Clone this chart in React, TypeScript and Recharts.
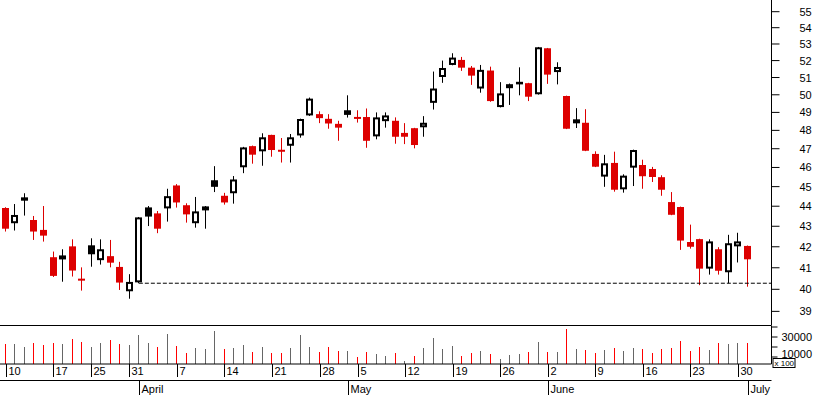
import React from "react";
import { ComposedChart, Bar, Cell, XAxis, YAxis, ReferenceLine } from "recharts";

const FONT = "'Liberation Sans', Arial, sans-serif";
const RED = "#dd0000";
const VOL_RED = "#ff0000";
const VOL_GRAY = "#666666";
const INK = "#000000";

// trading sessions, 2008
const YEAR = 2008;
const MARCH_DAYS = [10, 11, 12, 13, 14, 17, 18, 19, 20, 25, 26, 27, 28, 31];
const APRIL_DAYS = [1, 2, 3, 4, 7, 8, 9, 10, 11, 14, 15, 16, 17, 18, 21, 22, 23, 24, 25, 28, 29, 30];
const MAY_DAYS = [2, 5, 6, 7, 8, 9, 12, 13, 14, 15, 16, 19, 20, 21, 22, 23, 26, 27, 28, 29, 30];
const JUNE_DAYS = [2, 3, 4, 5, 6, 9, 10, 11, 12, 13, 16, 17, 18, 19, 20, 23, 24, 25, 26, 27, 30];
const JULY_DAYS = [1];
const MONTH_NAMES = ["January", "February", "March", "April", "May", "June", "July"];

const OPEN = [
  43.91, 43.15, 44.45, 43.31, 42.82, 41.5, 41.4, 42.02, 40.47, 42.07,
  41.36, 41.55, 41.04, 39.91, 40.32, 43.94, 43.64, 43.89, 45.06, 44.05,
  43.15, 43.84, 45.33, 44.53, 44.66, 46.01, 47.14, 46.86, 47.75, 46.92,
  47.16, 47.72, 48.83, 48.68, 48.64, 48.36, 49.12, 48.72, 48.74, 47.67,
  48.51, 48.53, 47.86, 48.12, 48.17, 49.54, 51.03, 51.74, 52.04, 51.58,
  50.36, 51.41, 49.3, 50.43, 50.75, 50.67, 50.03, 52.74, 51.32, 49.93,
  48.42, 48.42, 46.72, 45.52, 46.24, 44.86, 45.99, 46.13, 45.92, 45.49,
  44.21, 43.96, 42.23, 42.37, 40.96, 41.88, 40.79, 42.02, 42.04,
];
const HIGH = [
  43.95, 44.11, 44.66, 43.51, 44.01, 41.77, 41.88, 42.36, 41.02, 42.41,
  42.36, 42.33, 41.28, 40.7, 43.46, 44.01, 43.76, 44.89, 45.13, 44.15,
  44.47, 44.01, 46.07, 44.68, 45.55, 47.1, 47.17, 47.84, 47.76, 47.58,
  47.8, 48.65, 49.84, 49.06, 48.9, 48.53, 49.97, 49.12, 49.22, 49.0,
  49.0, 48.72, 48.4, 48.14, 48.79, 51.35, 52.0, 52.44, 52.22, 51.68,
  51.74, 51.64, 50.73, 50.65, 51.6, 50.69, 52.82, 52.76, 51.9, 49.95,
  49.24, 49.18, 46.86, 46.67, 46.84, 45.64, 46.95, 46.41, 46.03, 45.59,
  44.72, 43.98, 43.08, 42.39, 42.36, 41.98, 42.58, 42.68, 42.06,
];
const LOW = [
  42.74, 42.79, 43.53, 42.33, 42.25, 40.57, 40.35, 40.59, 39.94, 41.05,
  41.15, 41.02, 39.97, 39.57, 40.28, 43.01, 42.66, 43.23, 43.93, 43.18,
  42.93, 42.88, 44.72, 44.08, 44.13, 45.7, 46.2, 46.09, 46.57, 46.26,
  46.26, 47.6, 48.8, 48.4, 48.09, 47.43, 48.71, 48.43, 47.05, 47.51,
  48.15, 47.27, 47.25, 47.02, 47.65, 49.16, 50.69, 51.72, 51.39, 50.57,
  50.12, 49.6, 49.28, 49.42, 49.97, 49.64, 50.01, 50.63, 50.6, 48.07,
  48.13, 46.87, 46.02, 44.99, 44.74, 44.69, 45.03, 44.89, 45.24, 44.53,
  43.55, 41.85, 41.91, 40.19, 40.68, 40.68, 40.28, 41.25, 40.12,
];
const CLOSE = [
  42.88, 43.56, 44.28, 42.74, 42.54, 40.62, 41.58, 40.87, 40.42, 41.64,
  41.88, 41.24, 40.31, 40.34, 43.44, 43.48, 42.88, 44.51, 44.19, 43.59,
  43.74, 43.94, 44.99, 44.19, 45.37, 47.07, 46.68, 47.62, 46.93, 46.86,
  47.62, 48.63, 49.78, 48.9, 48.38, 48.15, 48.86, 48.66, 47.43, 48.72,
  48.83, 47.65, 47.65, 47.2, 48.42, 50.36, 51.56, 52.18, 51.58, 51.11,
  51.45, 49.64, 50.08, 50.56, 50.6, 49.89, 52.8, 51.17, 51.62, 48.09,
  48.58, 46.89, 46.04, 46.22, 44.84, 45.57, 46.93, 45.54, 45.5, 44.84,
  43.57, 42.3, 42.0, 40.96, 42.26, 40.86, 42.17, 42.26, 41.4,
];
// volume in hundreds of shares
const VOLUME = [
  22700, 22700, 19700, 23700, 21700, 23700, 22700, 27700, 24700, 19700,
  23700, 26700, 22700, 21700, 31700, 23700, 19700, 32700, 20700, 13700,
  18700, 17700, 35700, 17700, 18700, 21700, 14700, 19700, 13700, 13700,
  18700, 31700, 19700, 14700, 19700, 15700, 15700, 9700, 14700, 12700,
  10700, 13700, 5700, 10700, 18700, 28700, 17700, 20700, 10700, 13700,
  15700, 12700, 7700, 11700, 12700, 14700, 24700, 14700, 14700, 37700,
  17700, 16700, 13700, 16700, 18700, 15700, 18700, 17700, 13700, 17700,
  18700, 25700, 15700, 19700, 16700, 23700, 22700, 23700, 23700,
];
const PRIOR_CLOSE = 44.0;
const SUPPORT_LEVEL = 40.28;

const PRICE_TICKS = [39, 40, 41, 42, 43, 44, 45, 46, 47, 48, 49, 50, 51, 52, 53, 54, 55];
const VOLUME_TICKS = [10000, 20000, 30000, 40000];
const VOLUME_LABELS = [10000, 30000];

const X_DOMAIN: [number, number] = [-0.6, 80.52];
const PRICE_DOMAIN: [number, number] = [38.373, 55.743];
const VOLUME_DOMAIN: [number, number] = [3000, 41000];

const SESSIONS: Array<[number, number[]]> = [
  [2, MARCH_DAYS],
  [3, APRIL_DAYS],
  [4, MAY_DAYS],
  [5, JUNE_DAYS],
  [6, JULY_DAYS],
];
const DATES = SESSIONS.flatMap(([m, days]) => days.map((d) => new Date(YEAR, m, d)));

const data = DATES.map((date, i) => ({
  i,
  date,
  open: OPEN[i],
  high: HIGH[i],
  low: LOW[i],
  close: CLOSE[i],
  prevClose: i === 0 ? PRIOR_CLOSE : CLOSE[i - 1],
  range: [LOW[i], HIGH[i]],
  volume: VOLUME[i],
}));

const WEEK_TICKS = DATES.map((d, i) => i).filter(
  (i) =>
    i === 0 ||
    DATES[i].getDay() <= DATES[i - 1].getDay() ||
    DATES[i].getTime() - DATES[i - 1].getTime() >= 7 * 86400000
);
const MONTH_TICKS = DATES.map((d, i) => i).filter((i) => i > 0 && DATES[i].getMonth() !== DATES[i - 1].getMonth());

const supportStart = DATES.findIndex((d) => d.getMonth() === 3);

const Candle = (props: any) => {
  const { x, y, width, height, payload } = props;
  if (x == null || y == null) return null;
  const { open, high, low, close, prevClose } = payload;
  const top = Math.min(y, y + height);
  const span = Math.abs(height);
  const lnH = Math.log(high);
  const lnL = Math.log(low);
  const py = (v: number) => top + (span * (lnH - Math.log(v))) / (lnH - lnL || 1);
  const left = Math.round(x + width / 2 - 3.5);
  const cx = left + 3.5;
  const color = close <= prevClose ? RED : INK;
  const hollow = close > open;
  let yTop = py(Math.max(open, close));
  let yBot = py(Math.min(open, close));
  const minH = hollow ? 4 : 2;
  if (yBot - yTop < minH) {
    const m = (yTop + yBot) / 2;
    yTop = m - minH / 2;
    yBot = m + minH / 2;
  }
  return (
    <g>
      <line x1={cx} x2={cx} y1={py(high)} y2={py(low)} stroke={color} strokeWidth={1} />
      {hollow ? (
        <rect x={left + 1} y={yTop + 1} width={5} height={Math.max(0, yBot - yTop - 2)} fill="#fff" stroke={color} strokeWidth={2} />
      ) : (
        <rect x={left} y={yTop} width={7} height={yBot - yTop} fill={color} />
      )}
    </g>
  );
};

const VolumeStick = (props: any) => {
  const { x, y, width, height, fill } = props;
  if (x == null || y == null) return null;
  return <rect x={Math.round(x + width / 2 - 0.5)} y={Math.round(y)} width={1} height={Math.round(height)} fill={fill} />;
};

const PriceTick = (props: any) => {
  const { x, y, payload } = props;
  return (
    <g>
      <line x1={x} x2={x + 8} y1={y} y2={y} stroke={INK} />
      <text x={x + 28} y={y} dy={4} fontSize={11} fontFamily={FONT} fill={INK}>
        {payload.value}
      </text>
    </g>
  );
};

const VolumeTick = (props: any) => {
  const { x, y, payload } = props;
  const v = payload.value;
  const first = v === VOLUME_LABELS[0];
  return (
    <g>
      <line x1={x} x2={x + 6} y1={y} y2={y} stroke={INK} />
      {VOLUME_LABELS.includes(v) && (
        <text x={x + 10} y={y} dy={first ? 1 : 4} fontSize={11} fontFamily={FONT} fill={INK}>
          {v}
        </text>
      )}
      {first && (
        <g>
          <rect x={x + 1.5} y={y + 1.5} width={22} height={9} fill="#fff" stroke={INK} />
          <text x={x + 3} y={y + 9} fontSize={8} fontFamily={FONT} fill={INK}>
            x 100
          </text>
        </g>
      )}
    </g>
  );
};

const DayTick = (props: any) => {
  const { x, y, payload } = props;
  const d = DATES[payload.value];
  const px = Math.round(x) + 0.5;
  return (
    <g>
      <line x1={px} x2={px} y1={y} y2={y + 13} stroke={INK} />
      <text x={px + 2} y={y + 11} fontSize={11} fontFamily={FONT} fill={INK}>
        {d ? d.getDate() : ""}
      </text>
    </g>
  );
};

const MonthTick = (props: any) => {
  const { x, y, payload } = props;
  const d = DATES[payload.value];
  const px = Math.round(x) + 0.5;
  return (
    <g>
      <line x1={px} x2={px} y1={y} y2={y + 14.5} stroke={INK} />
      <text x={px + 2} y={y + 12} fontSize={11} fontFamily={FONT} fill={INK}>
        {d ? MONTH_NAMES[d.getMonth()] : ""}
      </text>
    </g>
  );
};

export default function App() {
  return (
    <div style={{ position: "relative", width: 817, height: 395, background: "#fff", fontFamily: FONT }}>
      <style>{"body{margin:0}"}</style>
      <div style={{ position: "absolute", left: 0, top: 0 }}>
        <ComposedChart width={817} height={326.5} data={data} margin={{ top: 0, right: 0, bottom: 0, left: 0 }}>
          <XAxis dataKey="i" type="number" domain={X_DOMAIN} allowDataOverflow height={1} tick={false} tickLine={false} axisLine={{ stroke: INK }} />
          <YAxis
            orientation="right"
            type="number"
            scale="log"
            domain={PRICE_DOMAIN}
            allowDataOverflow
            ticks={PRICE_TICKS}
            interval={0}
            width={45.5}
            tickSize={0}
            tickMargin={0}
            tickLine={false}
            axisLine={{ stroke: INK }}
            tick={<PriceTick />}
          />
          <Bar dataKey="range" barSize={7} shape={<Candle />} isAnimationActive={false} />
          <ReferenceLine
            segment={[
              { x: supportStart, y: SUPPORT_LEVEL },
              { x: X_DOMAIN[1], y: SUPPORT_LEVEL },
            ]}
            stroke={INK}
            strokeDasharray="4 2"
            ifOverflow="visible"
          />
        </ComposedChart>
      </div>
      <div style={{ position: "absolute", left: 0, top: 326 }}>
        <ComposedChart width={817} height={69} data={data} margin={{ top: 0, right: 0, bottom: 0, left: 0 }}>
          <XAxis xAxisId="gap" dataKey="i" type="number" domain={X_DOMAIN} allowDataOverflow height={3.5} tick={false} tickLine={false} axisLine={false} />
          <XAxis
            xAxisId="day"
            dataKey="i"
            type="number"
            domain={X_DOMAIN}
            allowDataOverflow
            height={13}
            ticks={WEEK_TICKS}
            interval={0}
            tickSize={0}
            tickMargin={0}
            tickLine={false}
            axisLine={{ stroke: INK }}
            tick={<DayTick />}
          />
          <XAxis
            xAxisId="month"
            dataKey="i"
            type="number"
            domain={X_DOMAIN}
            allowDataOverflow
            height={14.5}
            ticks={MONTH_TICKS}
            interval={0}
            tickSize={0}
            tickMargin={0}
            tickLine={false}
            axisLine={{ stroke: INK }}
            tick={<MonthTick />}
          />
          <YAxis
            orientation="right"
            type="number"
            domain={VOLUME_DOMAIN}
            allowDataOverflow
            ticks={VOLUME_TICKS}
            interval={0}
            width={45.5}
            tickSize={0}
            tickMargin={0}
            tickLine={false}
            axisLine={{ stroke: INK }}
            tick={<VolumeTick />}
          />
          <Bar xAxisId="day" dataKey="volume" barSize={1} shape={<VolumeStick />} isAnimationActive={false}>
            {data.map((d) => (
              <Cell key={d.i} fill={d.close < d.prevClose ? VOL_RED : VOL_GRAY} />
            ))}
          </Bar>
        </ComposedChart>
      </div>
    </div>
  );
}
